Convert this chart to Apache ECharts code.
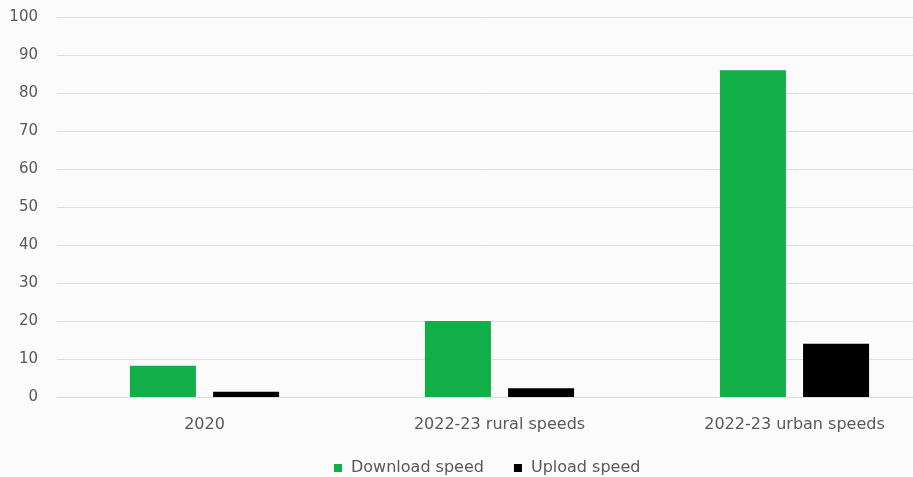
<!DOCTYPE html>
<html>
<head>
<meta charset="utf-8">
<script src="https://cdn.jsdelivr.net/npm/echarts@6/dist/echarts.min.js"></script>
<style>
  html, body { margin: 0; padding: 0; background: #fbfbfb; }
  #chart { width: 913px; height: 477px; }
</style>
</head>
<body>
<div id="chart"></div>
<script>
const categories = ['2020', '2022-23 rural speeds', '2022-23 urban speeds'];
const downloadSpeed = [8.2, 20, 86];
const uploadSpeed = [1.4, 2.3, 14];
const yTicks = [0, 10, 20, 30, 40, 50, 60, 70, 80, 90, 100];

const chart = echarts.init(document.getElementById('chart'));

chart.setOption({
  backgroundColor: '#fbfbfb',
  animation: false,
  textStyle: { fontFamily: '"DejaVu Sans", sans-serif' },
  // plot area runs past the right edge, as in the cropped original
  grid: { left: 57, top: 17, width: 885, height: 380, outerBoundsMode: 'none', containLabel: false },
  legend: {
    top: 455,
    left: 329,
    itemWidth: 8,
    itemHeight: 8,
    itemGap: 30,
    icon: 'rect',
    textStyle: { color: '#595959', fontSize: 16, padding: [0, 0, 0, 4] },
    data: ['Download speed', 'Upload speed']
  },
  xAxis: {
    type: 'category',
    data: categories,
    axisLine: { show: true, lineStyle: { color: '#dedada' } },
    axisTick: { show: false },
    axisLabel: { color: '#595959', fontSize: 16, margin: 20 }
  },
  yAxis: {
    type: 'value',
    min: yTicks[0],
    max: yTicks[yTicks.length - 1],
    interval: 10,
    axisLine: { show: false },
    axisTick: { show: false },
    axisLabel: { color: '#595959', fontSize: 15, margin: 19 },
    splitLine: { lineStyle: { color: '#e2dede' } }
  },
  series: [
    {
      name: 'Download speed',
      type: 'bar',
      data: downloadSpeed,
      barWidth: 66,
      barGap: '26%',
      itemStyle: { color: '#12ae48' }
    },
    {
      name: 'Upload speed',
      type: 'bar',
      data: uploadSpeed,
      barWidth: 66,
      itemStyle: { color: '#000000' }
    }
  ]
});
</script>
</body>
</html>
